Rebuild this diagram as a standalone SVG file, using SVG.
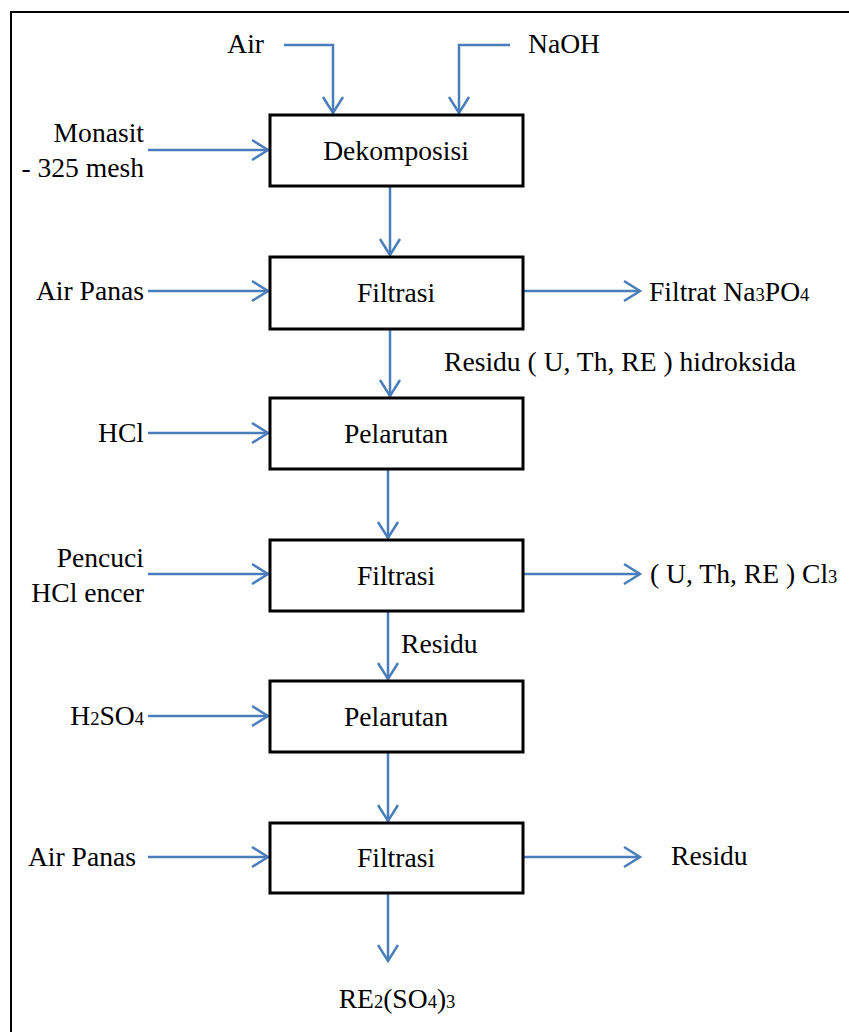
<svg xmlns="http://www.w3.org/2000/svg" width="849" height="1032" viewBox="0 0 849 1032">
<style>
  text { font-family: 'Liberation Serif', 'DejaVu Serif', serif; font-size: 27.6px; fill: #000; }
  .c { text-anchor: middle; }
  .e { text-anchor: end; }
  .sub { font-size: 18.5px; }
  .box { fill: #fff; stroke: #000; stroke-width: 3; }
  .ln { fill: none; stroke: #4a7ebb; stroke-width: 2.5; }
  .ar { marker-end: url(#arr); }
</style>
<defs>
  <marker id="arr" markerUnits="userSpaceOnUse" viewBox="-20 -12 22 24" refX="0" refY="0" markerWidth="22" markerHeight="24" orient="auto" overflow="visible">
    <path d="M-16,-10 L0,0 L-16,10" fill="none" stroke="#4a7ebb" stroke-width="2.5"/>
  </marker>
</defs>
<rect x="11" y="12" width="900" height="1100" fill="#fff" stroke="#000" stroke-width="2"/>

<g id="connectors">
  <path class="ln ar" d="M284,45 H333 V113"/>
  <path class="ln ar" d="M510,45 H459 V113"/>
  <path class="ln ar" d="M148,150 H268"/>
  <path class="ln ar" d="M390,187 V255"/>
  <path class="ln ar" d="M148,291 H268"/>
  <path class="ln ar" d="M523,291 H640"/>
  <path class="ln ar" d="M390,330 V396"/>
  <path class="ln ar" d="M148,433 H268"/>
  <path class="ln ar" d="M388,470 V538"/>
  <path class="ln ar" d="M148,574 H268"/>
  <path class="ln ar" d="M523,574 H640"/>
  <path class="ln ar" d="M388,612 V679"/>
  <path class="ln ar" d="M148,716 H268"/>
  <path class="ln ar" d="M388,753 V821"/>
  <path class="ln ar" d="M148,857 H268"/>
  <path class="ln ar" d="M523,857 H640"/>
  <path class="ln ar" d="M388,894 V961"/>
</g>

<g id="node-dekomposisi">
  <rect class="box" x="270" y="115" width="253" height="71"/>
  <text class="c" x="396" y="160">Dekomposisi</text>
</g>
<g id="node-filtrasi1">
  <rect class="box" x="270" y="257" width="253" height="72"/>
  <text class="c" x="396" y="302">Filtrasi</text>
</g>
<g id="node-pelarutan1">
  <rect class="box" x="270" y="398" width="253" height="71"/>
  <text class="c" x="396" y="443">Pelarutan</text>
</g>
<g id="node-filtrasi2">
  <rect class="box" x="270" y="540" width="253" height="71"/>
  <text class="c" x="396" y="585">Filtrasi</text>
</g>
<g id="node-pelarutan2">
  <rect class="box" x="270" y="681" width="253" height="71"/>
  <text class="c" x="396" y="726">Pelarutan</text>
</g>
<g id="node-filtrasi3">
  <rect class="box" x="270" y="823" width="253" height="70"/>
  <text class="c" x="396" y="867">Filtrasi</text>
</g>

<g id="labels">
  <text class="e" x="264" y="53">Air</text>
  <text x="528" y="53">NaOH</text>
  <text class="e" x="144" y="142">Monasit</text>
  <text class="e" x="144" y="177">- 325 mesh</text>
  <text class="e" x="144" y="300">Air Panas</text>
  <text x="649" y="301">Filtrat Na<tspan class="sub">3</tspan>PO<tspan class="sub">4</tspan></text>
  <text x="444" y="371">Residu ( U, Th, RE ) hidroksida</text>
  <text class="e" x="144" y="442">HCl</text>
  <text class="e" x="144" y="567">Pencuci</text>
  <text class="e" x="144" y="602">HCl encer</text>
  <text x="650" y="583">( U, Th, RE ) Cl<tspan class="sub">3</tspan></text>
  <text x="401" y="653">Residu</text>
  <text class="e" x="144" y="725">H<tspan class="sub">2</tspan>SO<tspan class="sub">4</tspan></text>
  <text class="e" x="136" y="866">Air Panas</text>
  <text x="671" y="865">Residu</text>
  <text class="c" x="397" y="1008">RE<tspan class="sub">2</tspan>(SO<tspan class="sub">4</tspan>)<tspan class="sub">3</tspan></text>
</g>
</svg>
